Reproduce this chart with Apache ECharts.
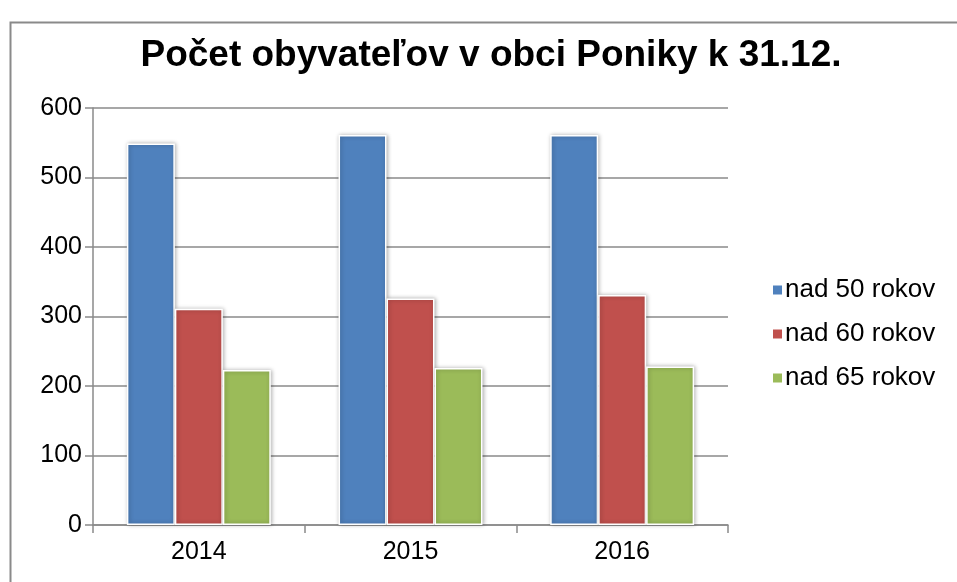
<!DOCTYPE html>
<html>
<head>
<meta charset="utf-8">
<script src="https://cdn.jsdelivr.net/npm/echarts@6/dist/echarts.min.js"></script>
<style>
  html, body { margin: 0; padding: 0; background: #fff; }
  #chart { width: 957px; height: 582px; }
</style>
</head>
<body>
<div id="chart"></div>
<script>
// roky a hodnoty odčítané z grafu
var years = ['2014', '2015', '2016'];
var seriesNames = ['nad 50 rokov', 'nad 60 rokov', 'nad 65 rokov'];
var nad50 = [549, 561, 561];
var nad60 = [311, 326, 331];
var nad65 = [223, 226, 228];
var colors = ['#4F81BD', '#C0504D', '#9BBB59'];

var myChart = echarts.init(document.getElementById('chart'));

function barSeries(name, data, color) {
    return {
        name: name,
        type: 'bar',
        data: data,
        barGap: '0%',
        barCategoryGap: '32%',
        itemStyle: {
            color: color,
            borderColor: '#fff',
            borderWidth: 1.5,
            shadowBlur: 4,
            shadowOffsetX: 1,
            shadowOffsetY: 0,
            shadowColor: 'rgba(0,0,0,0.3)'
        }
    };
}

var option = {
    animation: false,
    backgroundColor: '#fff',
    textStyle: { fontFamily: 'Liberation Sans, Arial, sans-serif' },
    color: colors,
    graphic: [{
        type: 'rect',
        left: 8, top: 20,
        shape: { width: 1000, height: 620 },
        style: { fill: 'none', stroke: '#8a8a8a', lineWidth: 2 },
        silent: true
    }],
    title: {
        text: 'Počet obyvateľov v obci Poniky k 31.12.',
        left: 486,
        top: 32,
        textAlign: 'center',
        textStyle: { fontSize: 37, fontWeight: 'bold', color: '#000', fontFamily: 'Liberation Sans, Arial, sans-serif' }
    },
    legend: {
        orient: 'vertical',
        left: 766,
        top: 272,
        itemWidth: 11,
        itemHeight: 11,
        itemGap: 18,
        icon: 'rect',
        textStyle: { fontSize: 26, color: '#000', padding: [0, 0, 0, -3] },
        data: seriesNames
    },
    grid: { left: 93, top: 108, width: 635, height: 417 },
    xAxis: {
        type: 'category',
        data: years,
        axisLine: { lineStyle: { color: '#8a8a8a', width: 1.5 } },
        axisTick: { show: true, length: 8, lineStyle: { color: '#8a8a8a', width: 1.5 } },
        axisLabel: { fontSize: 25, color: '#000', margin: 15 }
    },
    yAxis: {
        type: 'value',
        min: 0, max: 600, interval: 100,
        axisLine: { show: true, lineStyle: { color: '#8a8a8a', width: 1.5 } },
        axisTick: { show: true, length: 8, lineStyle: { color: '#8a8a8a', width: 1.5 } },
        axisLabel: { fontSize: 25, color: '#000', margin: 11 },
        splitLine: { lineStyle: { color: '#8a8a8a', width: 1.5 } }
    },
    series: [
        barSeries(seriesNames[0], nad50, colors[0]),
        barSeries(seriesNames[1], nad60, colors[1]),
        barSeries(seriesNames[2], nad65, colors[2])
    ]
};

myChart.setOption(option);
</script>
</body>
</html>
